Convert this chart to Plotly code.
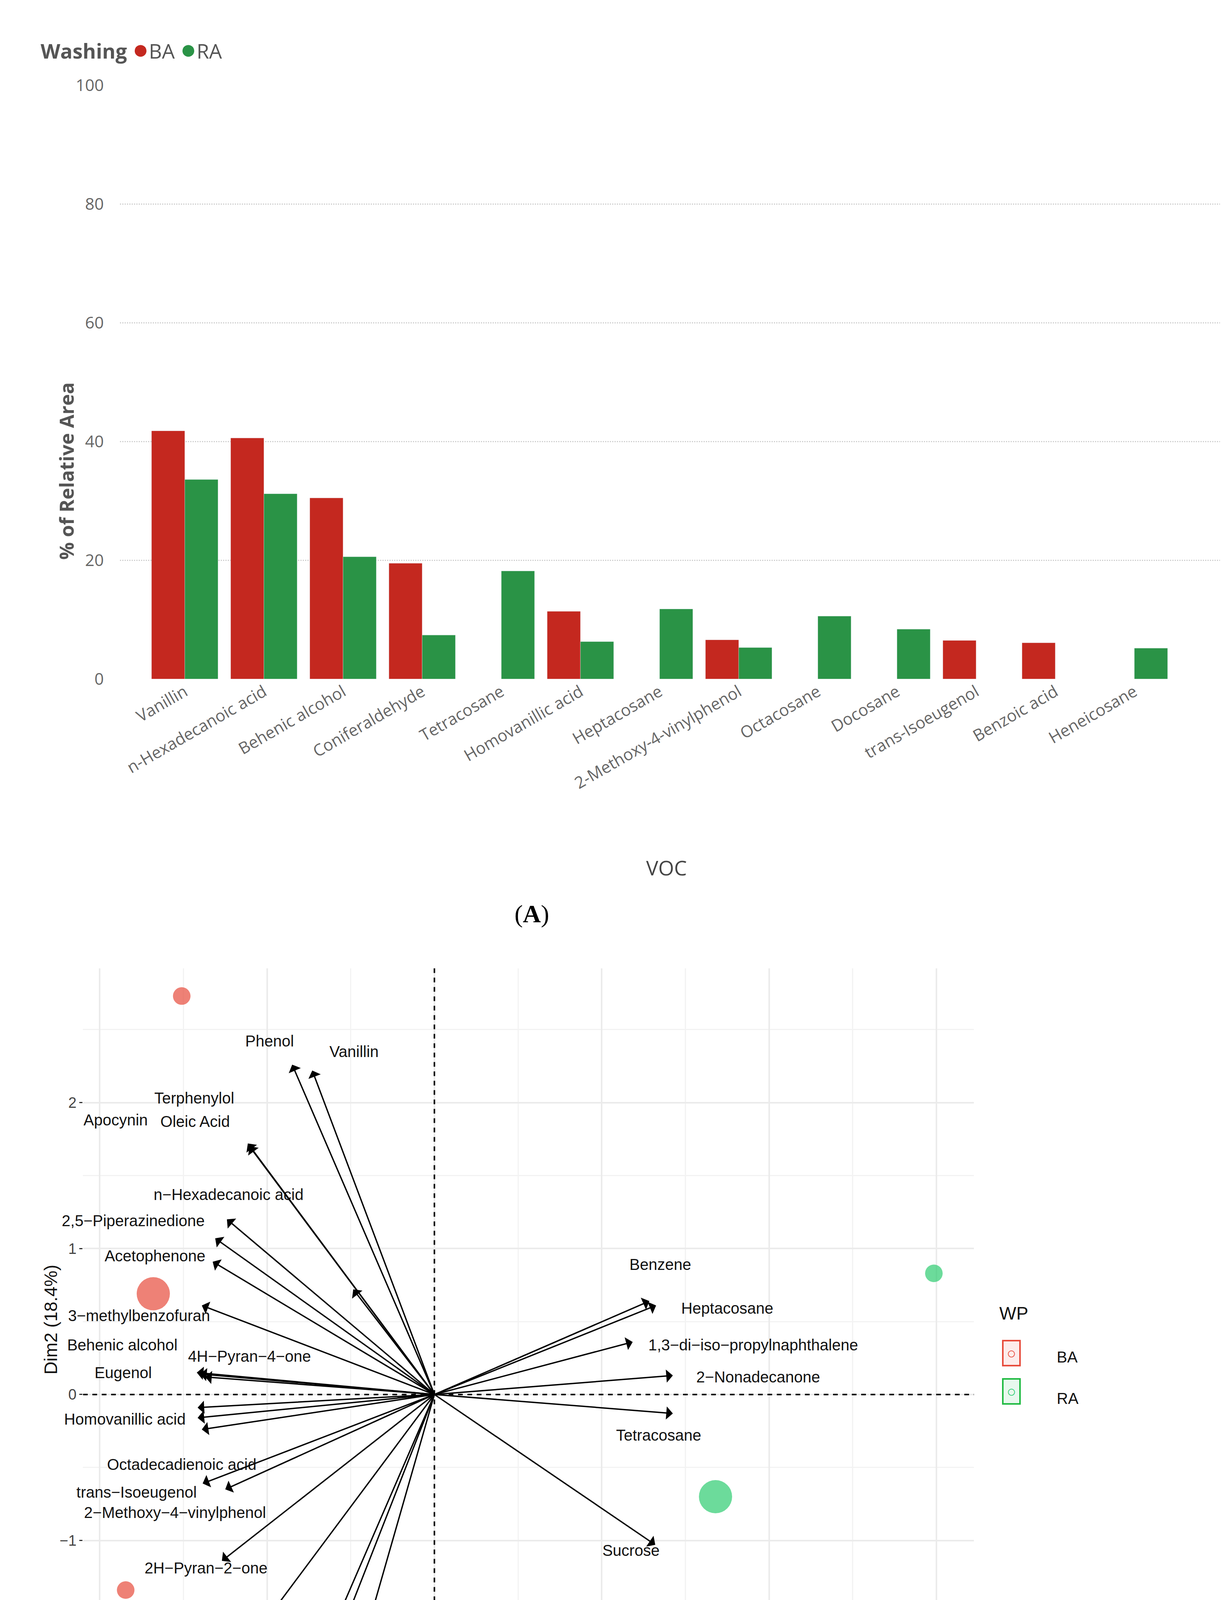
import plotly.graph_objects as go

# ---------- Panel A data ----------
vocs = ["Vanillin", "n-Hexadecanoic acid", "Behenic alcohol", "Coniferaldehyde", "Tetracosane",
        "Homovanillic acid", "Heptacosane", "2-Methoxy-4-vinylphenol", "Octacosane", "Docosane",
        "trans-Isoeugenol", "Benzoic acid", "Heneicosane"]
ba_vals = [41.8, 40.6, 30.5, 19.5, None, 11.4, None, 6.6, None, None, 6.5, 6.1, None]
ra_vals = [33.6, 31.2, 20.6, 7.4, 18.2, 6.3, 11.8, 5.3, 10.6, 8.4, None, None, 5.2]
y_ticks_a = [0, 20, 40, 60, 80, 100]

# ---------- Panel B data ----------
arrow_names = ["Phenol", "Vanillin", "Oleic Acid", "Terphenylol", "Apocynin", "n-Hexadecanoic acid",
               "2,5-Piperazinedione", "Acetophenone", "3-methylbenzofuran", "Behenic alcohol",
               "4H-Pyran-4-one", "Eugenol", "Homovanillic acid", "Homovanillic acid b", "Homovanillic acid c",
               "Octadecadienoic acid", "trans-Isoeugenol", "2H-Pyran-2-one", "Isopropyl myristate",
               "Tetradecanoic acid", "2-Pentadecanone", "Nonanoic acid",
               "Benzene", "Heptacosane", "1,3-di-iso-propylnaphthalene", "2-Nonadecanone", "Tetracosane", "Sucrose"]
arrow_x = [-1.70, -1.46, -2.23, -0.97, -2.21, -2.48, -2.62, -2.65, -2.78, -2.84, -2.74, -2.80,
           -2.83, -2.83, -2.78, -2.50, -2.77, -2.54, -2.12, -1.70, -1.50, -1.23,
           2.57, 2.65, 2.37, 2.85, 2.85, 2.64]
arrow_y = [2.26, 2.22, 1.72, 0.72, 1.70, 1.20, 1.07, 0.91, 0.61, 0.15, 0.12, 0.14,
           -0.09, -0.16, -0.24, -0.65, -0.61, -1.14, -1.63, -2.25, -2.19, -2.46,
           0.64, 0.61, 0.36, 0.13, -0.13, -1.03]

label_text = ["Phenol", "Vanillin", "Terphenylol", "Apocynin", "Oleic Acid", "n\u2212Hexadecanoic acid",
              "2,5\u2212Piperazinedione", "Acetophenone", "3\u2212methylbenzofuran", "Behenic alcohol",
              "4H\u2212Pyran\u22124\u2212one", "Eugenol", "Homovanillic acid", "Octadecadienoic acid",
              "trans\u2212Isoeugenol", "2\u2212Methoxy\u22124\u2212vinylphenol", "2H\u2212Pyran\u22122\u2212one",
              "Isopropyl myristate", "2\u2212Pentadecanone", "Tetradecanoic acid", "Nonanoic acid",
              "Benzene", "Heptacosane", "1,3\u2212di\u2212iso\u2212propylnaphthalene", "2\u2212Nonadecanone",
              "Tetracosane", "Sucrose"]
label_x = [-1.97, -0.96, -2.87, -3.81, -2.86, -2.46, -3.60, -3.34, -3.53, -3.73, -2.21, -3.72, -3.70,
           -3.02, -3.56, -3.10, -2.73, -3.01, -2.94, -2.76, -1.16,
           2.70, 3.50, 3.81, 3.87, 2.68, 2.35]
label_y = [2.41, 2.34, 2.02, 1.87, 1.86, 1.36, 1.18, 0.94, 0.53, 0.33, 0.25, 0.14, -0.18,
           -0.49, -0.68, -0.82, -1.20, -1.67, -1.96, -2.33, -2.51,
           0.88, 0.58, 0.33, 0.11, -0.29, -1.08]

ind_x = [-3.02, -3.36, -3.69, 0.75, 5.97, 3.36]
ind_y = [2.73, 0.69, -1.34, -2.22, 0.83, -0.70]
ind_group = ["BA", "BA", "BA", "RA", "RA", "RA"]
ind_size = [45, 85, 45, 45, 45, 85]

RED, GREEN = "#c4281f", "#2a9346"
PRED, PGREEN = "#e74c3c", "#2ecc71"

fig = go.Figure()
fig.add_trace(go.Bar(x=vocs, y=ba_vals, marker_color=RED, name="BA", showlegend=False, xaxis="x", yaxis="y"))
fig.add_trace(go.Bar(x=vocs, y=ra_vals, marker_color=GREEN, name="RA", showlegend=False, xaxis="x", yaxis="y"))

fig.add_trace(go.Scatter(x=label_x, y=label_y, text=label_text, mode="text", showlegend=False, cliponaxis=False,
                         textfont=dict(family="Liberation Sans", size=40, color="#111"), xaxis="x2", yaxis="y2"))
for g, c in [("BA", PRED), ("RA", PGREEN)]:
    idx = [i for i, v in enumerate(ind_group) if v == g]
    fig.add_trace(go.Scatter(x=[ind_x[i] for i in idx], y=[ind_y[i] for i in idx], mode="markers",
                             marker=dict(color=c, size=[ind_size[i] for i in idx], line=dict(width=0)),
                             showlegend=False, xaxis="x2", yaxis="y2"))

for ax_, ay_ in zip(arrow_x, arrow_y):
    fig.add_annotation(x=ax_, y=ay_, ax=0, ay=0, xref="x2", yref="y2", axref="x2", ayref="y2",
                       showarrow=True, arrowhead=1, arrowsize=1.6, arrowwidth=3.5, arrowcolor="black", text="")

fig.add_shape(type="line", xref="x2", yref="y2", x0=0, x1=0, y0=-2.7, y1=2.92,
              line=dict(color="black", width=4, dash="dash"))
fig.add_shape(type="line", xref="x2", yref="y2", x0=-4.2, x1=6.45, y0=0, y1=0,
              line=dict(color="black", width=4, dash="dash"))

gray = "#666666"
fig.update_layout(
    width=3146, height=4929, margin=dict(l=0, r=0, t=0, b=0),
    paper_bgcolor="white", plot_bgcolor="white", showlegend=False,
    barmode="group", bargap=0.16, bargroupgap=0,
    font=dict(family="Open Sans", color=gray),
    xaxis=dict(domain=[0.095, 0.99], anchor="y", range=[-0.82, 13.08], tickangle=-30,
               tickfont=dict(size=42, color=gray), showgrid=False, ticks=""),
    yaxis=dict(domain=[0.651, 0.963], anchor="x", range=[0, 100], tickvals=y_ticks_a,
               tickfont=dict(size=42, color=gray), showgrid=True, gridcolor="#cfcfcf",
               griddash="dot", gridwidth=3, zeroline=False, ticklabelstandoff=40),
    xaxis2=dict(domain=[0.065, 0.79], anchor="y2", range=[-4.2, 6.45], tickvals=[-4, -2, 0, 2, 4, 6],
                tickfont=dict(size=38, color="#444", family="Liberation Sans"), showgrid=True,
                gridcolor="#ebebeb", gridwidth=4, zeroline=False, ticks="outside", ticklen=8,
                tickcolor="#333", tickwidth=3,
                minor=dict(dtick=1, showgrid=True, gridcolor="#f3f3f3", gridwidth=3)),
    yaxis2=dict(domain=[0.068, 0.499], anchor="x2", range=[-2.7, 2.92], tickvals=[-2, -1, 0, 1, 2],
                tickfont=dict(size=38, color="#444", family="Liberation Sans"), showgrid=True,
                gridcolor="#ebebeb", gridwidth=4, zeroline=False, ticks="outside", ticklen=8,
                tickcolor="#333", tickwidth=3,
                minor=dict(dtick=0.5, showgrid=True, gridcolor="#f3f3f3", gridwidth=3)),
)

def pa(text, x, y, size, color="#111", family="Liberation Sans", angle=0, **kw):
    fig.add_annotation(text=text, x=x / 3146, y=1 - y / 4929, xref="paper", yref="paper",
                       textangle=angle, showarrow=False, font=dict(size=size, color=color, family=family), **kw)

# Panel A legend
pa(f"<b>Washing</b> <span style='color:{RED};font-size:70px'>\u25cf</span>BA "
   f"<span style='color:{GREEN};font-size:70px'>\u25cf</span>RA",
   94, 35, 52, color="#555", family="Open Sans", xanchor="left")
pa("VOC", 1698, 2208, 52, color="#444", family="Open Sans")
pa("<b>% of Relative Area</b>", 126, 950, 50, color="#555", family="Open Sans", angle=-90)
pa("Dim1 (72.9%)", 1346, 4688, 46)
pa("Dim2 (18.4%)", 94, 3524, 46, angle=-90)
pa("(<b>A</b>)", 1353, 2328, 64, color="black", family="Liberation Serif")
pa("(<b>B</b>)", 1353, 4860, 64, color="black", family="Liberation Serif")
# Panel B legend
pa("WP", 2548, 3391, 46, xanchor="left")
pa("\u25cb", 2605, 3500, 40, color=PRED, bordercolor=PRED, borderwidth=4, bgcolor="#fdeceb", borderpad=8)
pa("\u25cb", 2605, 3600, 40, color=PGREEN, bordercolor="#22bb44", borderwidth=4, bgcolor="#e8f8ee", borderpad=8)
pa("BA", 2695, 3500, 40, xanchor="left")
pa("RA", 2695, 3608, 40, xanchor="left")

fig.write_html("out.html")
